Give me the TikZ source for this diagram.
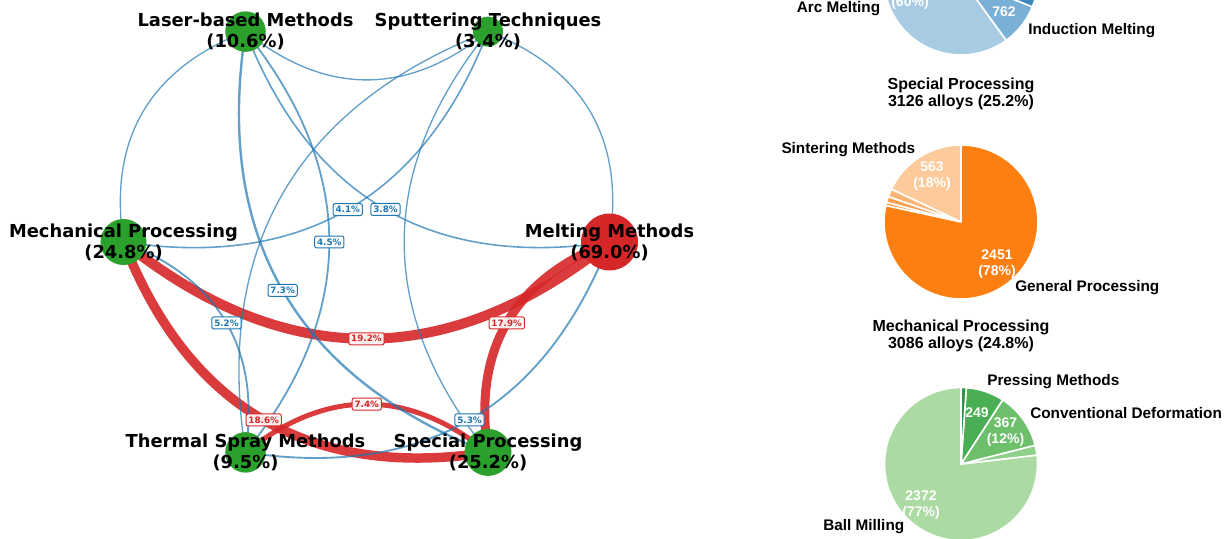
\documentclass[tikz,border=0pt]{standalone}
\usepackage{fontspec}
\newfontfamily\netfont{DejaVu Sans}
\newfontfamily\piefont{Liberation Sans}
\usetikzlibrary{calc}
\pgfdeclarelayer{links}
\pgfsetlayers{links,main}

\definecolor{netblue}{HTML}{1F77B4}
\definecolor{netred}{HTML}{D62728}
\definecolor{netgreen}{HTML}{2CA02C}
% melting methods (blues)
\definecolor{bluA}{HTML}{A6CBE3}
\definecolor{bluB}{HTML}{7AB0D6}
\definecolor{bluC}{HTML}{3A87C2}
% special processing (oranges)
\definecolor{orgA}{HTML}{FDCB9B}
\definecolor{orgB}{HTML}{FDB576}
\definecolor{orgC}{HTML}{FDA050}
\definecolor{orgD}{HTML}{FD8C30}
\definecolor{orgE}{HTML}{FE7F11}
% mechanical processing (greens)
\definecolor{grnA}{HTML}{ABDBA3}
\definecolor{grnB}{HTML}{8FD08A}
\definecolor{grnC}{HTML}{6DBF6B}
\definecolor{grnD}{HTML}{4AAE55}
\definecolor{grnE}{HTML}{2E9445}

% one pie wedge: centre, radius, start angle, end angle, colour
\newcommand{\drawslice}[5]{%
  \filldraw[fill=#5, draw=white, line width=1.2pt, line join=round]
    #1 -- ++({-(#3)}:#2) arc[start angle={-(#3)}, end angle={-(#4)}, radius=#2] -- cycle;}

\tikzset{
  hub/.style={circle, inner sep=0pt, draw=none},
  hubtext/.style={align=center, inner sep=0pt,
    font=\netfont\bfseries\fontsize{13.4}{15.75}\selectfont},
  weak/.style={draw=netblue, draw opacity=0.7},
  strong/.style={draw=netred, draw opacity=0.9},
  arcthree/.style={bend right=38.66, looseness=1.09},
  share/.style={fill=white, fill opacity=0.9, text opacity=1, rounded corners=1.5pt,
    line width=0.75pt, inner xsep=1.8pt, inner ysep=2pt,
    font=\netfont\bfseries\fontsize{6.6}{7.5}\selectfont},
  bluetag/.style={share, draw=netblue, text=netblue},
  redtag/.style={share, draw=netred, text=netred},
  pietitle/.style={align=center, inner sep=0pt,
    font=\piefont\bfseries\fontsize{12}{12.75}\selectfont},
  pieout/.style={inner sep=0pt, font=\piefont\bfseries\fontsize{11.5}{13}\selectfont},
  piein/.style={align=center, inner sep=0pt, text=white,
    font=\piefont\bfseries\fontsize{10.5}{12}\selectfont},
}

\begin{document}
\begin{tikzpicture}[x=0.75pt, y=-0.75pt]
\useasboundingbox (0,0) rectangle (1229,539);
\clip (0,0) rectangle (1229,539);

% ---------------- co-occurrence network ----------------
\node[hub, fill=netred,   minimum size=42.75pt] (Me) at (609.5,242) {};
\node[hub, fill=netgreen, minimum size=22.5pt]  (S)  at (488,31.6) {};
\node[hub, fill=netgreen, minimum size=30.4pt]  (L)  at (245.5,31.6) {};
\node[hub, fill=netgreen, minimum size=34.5pt]  (M)  at (123.5,242) {};
\node[hub, fill=netgreen, minimum size=30.4pt]  (T)  at (245.5,452.4) {};
\node[hub, fill=netgreen, minimum size=35.25pt] (P)  at (488,452.4) {};

\begin{pgfonlayer}{links}
  \draw[strong, line width=7.5pt]  (M.center)  to[arcthree] node[coordinate, pos=.5] (mMMe) {} (Me.center);
  \draw[strong, line width=7.1pt]  (M.center)  to[arcthree] node[coordinate, pos=.5] (mMP) {}  (P.center);
  \draw[strong, line width=6.75pt] (Me.center) to[arcthree] node[coordinate, pos=.5] (mMeP) {} (P.center);
  \draw[strong, line width=3.75pt] (P.center)  to[arcthree] node[coordinate, pos=.5] (mPT) {}  (T.center);
  \draw[weak, line width=1.8pt]  (L.center) to[arcthree] node[coordinate, pos=.5] (mLP) {}  (P.center);
  \draw[weak, line width=1.4pt]  (T.center) to[arcthree] node[coordinate, pos=.5] (mTM) {}  (M.center);
  \draw[weak, line width=1.4pt]  (T.center) to[arcthree] node[coordinate, pos=.5] (mTMe) {} (Me.center);
  \draw[weak, line width=1.35pt] (T.center) to[arcthree] node[coordinate, pos=.5] (mTL) {}  (L.center);
  \draw[weak, line width=1.2pt]  (M.center) to[arcthree] node[coordinate, pos=.5] (mMS) {}  (S.center);
  \draw[weak, line width=1.2pt]  (L.center) to[arcthree] node[coordinate, pos=.5] (mLMe) {} (Me.center);
  \draw[weak, line width=1pt] (L.center)  to[arcthree] (M.center);
  \draw[weak, line width=1pt] (L.center)  to[arcthree] (S.center);
  \draw[weak, line width=1pt] (Me.center) to[arcthree] (S.center);
  \draw[weak, line width=1pt] (S.center)  to[arcthree] (T.center);
  \draw[weak, line width=1pt] (S.center)  to[arcthree] (P.center);
\end{pgfonlayer}

% edge shares
\node[redtag]  (tMMe) at (mMMe) {19.2\%};
\node[redtag]  (tMP)  at (mMP)  {18.6\%};
\node[redtag]  (tMeP) at (mMeP) {17.9\%};
\node[redtag]  (tPT)  at (mPT)  {7.4\%};
\node[bluetag] (tLP)  at (mLP)  {7.3\%};
\node[bluetag] (tTM)  at (mTM)  {5.2\%};
\node[bluetag] (tTMe) at (mTMe) {5.3\%};
\node[bluetag] (tTL)  at (mTL)  {4.5\%};
\node[bluetag] (tMS)  at (mMS)  {4.1\%};
\node[bluetag] (tLMe) at (mLMe) {3.8\%};

% node captions
\node[hubtext] (Ltx) at (L) {Laser-based Methods\\(10.6\%)};
\node[hubtext] (Stx) at (S) {Sputtering Techniques\\(3.4\%)};
\node[hubtext] (Mtx) at (M) {Mechanical Processing\\(24.8\%)};
\node[hubtext] (Ttx) at (T) {Thermal Spray Methods\\(9.5\%)};
\node[hubtext] (Ptx) at (P) {Special Processing\\(25.2\%)};
\begin{scope}
  \clip (0,0) rectangle (692,539);
  \node[hubtext] (Metx) at (Me) {Melting Methods\\(69.0\%)};
\end{scope}

% ---------------- breakdown pies ----------------
% melting methods
\drawslice{(961,-22)}{77}{90}{306}{bluA}
\drawslice{(961,-22)}{77}{306}{338}{bluB}
\drawslice{(961,-22)}{77}{338}{450}{bluC}
\node[piein] (aP) at (910,2.5) {(60\%)};
\node[piein] (iP) at (1004,11.5) {762};
\node[pieout, anchor=base east] (aL) at (880.5,12.5) {Arc Melting};
\node[pieout, anchor=west] (iL) at (1028,30.5) {Induction Melting};

% special processing
\node[pietitle] (spT) at (961,93.5) {Special Processing\\3126 alloys (25.2\%)};
\drawslice{(961,222)}{77}{90}{154.8}{orgA}
\drawslice{(961,222)}{77}{154.8}{160.8}{orgB}
\drawslice{(961,222)}{77}{160.8}{165.3}{orgC}
\drawslice{(961,222)}{77}{165.3}{167.7}{orgD}
\drawslice{(961,222)}{77}{167.7}{450}{orgE}
\node[piein] (sP) at (932,176) {563\\(18\%)};
\node[piein] (gP) at (997,264) {2451\\(78\%)};
\node[pieout, anchor=east] (sL) at (915.5,150) {Sintering Methods};
\node[pieout, anchor=west] (gL) at (1015,287.5) {General Processing};

% mechanical processing
\node[pietitle] (mpT) at (961,335.5) {Mechanical Processing\\3086 alloys (24.8\%)};
\drawslice{(961,464)}{76.5}{90}{366.7}{grnA}
\drawslice{(961,464)}{76.5}{6.7}{14.2}{grnB}
\drawslice{(961,464)}{76.5}{14.2}{57}{grnC}
\drawslice{(961,464)}{76.5}{57}{86}{grnD}
\drawslice{(961,464)}{76.5}{86}{90}{grnE}
\node[piein] (pP) at (977,413) {249};
\node[piein] (cP) at (1005.5,432) {367\\(12\%)};
\node[piein] (bP) at (921,505) {2372\\(77\%)};
\node[pieout, anchor=west] (pL) at (987,382) {Pressing Methods};
\node[pieout, anchor=west] (cL) at (1030,413) {Conventional Deformation};
\node[pieout, anchor=east] (bL) at (904.5,527) {Ball Milling};
\end{tikzpicture}
\end{document}
